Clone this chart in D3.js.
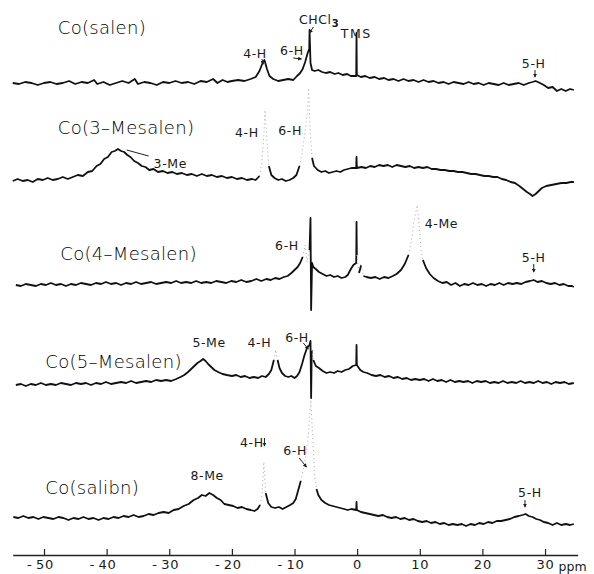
<!DOCTYPE html>
<html>
<head>
<meta charset="utf-8">
<script src="https://cdn.jsdelivr.net/npm/d3@7"></script>
<style>
body { margin: 0; background: #fff; }
</style>
</head>
<body>
<div id="content"></div>
<script>
// Five 1H NMR traces, stacked. Each point: [shift in ppm, intensity above the trace's own baseline].
var compounds = ['Co(salen)', 'Co(3–Mesalen)', 'Co(4–Mesalen)', 'Co(5–Mesalen)', 'Co(salibn)'];
var offsets = [0, -97, -202, -301, -434];
var ticks = [-50, -40, -30, -20, -10, 0, 10, 20, 30];

var salen = [[-55,0],[-54,-1],[-53,1],[-52,0],[-51,-2],[-50,0],[-49,1],[-48,-1],[-47,0],[-46,2],[-45,-1],[-44,1],[-43,0],[-42,3],[-41.5,-1],[-40.5,1],[-39.5,-2],[-38.5,0],[-37.5,2],[-36.5,0],[-35.5,4],[-35,-1],[-34,1],[-33,0],[-32,-2],[-31,1],[-30,0],[-29,2],[-28,0],[-27,1],[-26,-1],[-25,2],[-24,1],[-23,4],[-22.3,0],[-21.5,3],[-20.7,1],[-20,2],[-19,3],[-18,2],[-17,4],[-16.2,6],[-15.6,12],[-15.1,20],[-14.8,23],[-14.4,14],[-14,7],[-13.4,4],[-12.6,2],[-11.8,3],[-11,4],[-10.2,3],[-9.6,7],[-9.1,10],[-8.7,14],[-8.3,21],[-7.9,30],[-7.65,34],[-7.6,53],[-7.45,20],[-7.2,13],[-6.8,12],[-6.2,13],[-5.6,11],[-5,10],[-4.3,11],[-3.6,9],[-3,10],[-2.3,8],[-1.6,9],[-1,7],[-0.15,7],[-0.1,50],[-0.05,8],[0.6,6],[1.3,7],[2,5],[2.8,6],[3.5,4],[4.3,5],[5,3],[5.8,4],[6.6,2],[7.4,4],[8.2,2],[9,3],[9.8,1],[10.6,3],[11.4,1],[12.2,2],[13,0],[13.8,1],[14.6,-1],[15.4,1],[16.2,0],[17,-1],[17.8,1],[18.6,-1],[19.4,0],[20.2,-2],[21,0],[21.8,-1],[22.6,-2],[23.4,0],[24.2,-2],[25,-1],[25.8,0],[26.6,-2],[27.4,0],[28,1],[28.5,2],[29.2,0],[29.8,-2],[30.5,-5],[31.2,-4],[31.9,-8],[32.6,-6],[33.3,-8],[34,-6],[34.6,-7]];

var mesalen3 = [[-55,-1],[-54.2,1],[-53.4,-1],[-52.6,0],[-51.8,-2],[-51,1],[-50.2,0],[-49.4,2],[-48.6,0],[-47.8,1],[-47,3],[-46.2,1],[-45.4,3],[-44.6,5],[-43.8,4],[-43,8],[-42.3,9],[-41.6,14],[-41,16],[-40.4,21],[-39.8,23],[-39.2,28],[-38.7,29],[-38.2,31],[-37.7,29],[-37.2,28],[-36.7,25],[-36.2,23],[-35.6,19],[-35,17],[-34.4,14],[-33.8,13],[-33.2,10],[-32.5,11],[-31.8,8],[-31,9],[-30.3,7],[-29.5,8],[-28.8,6],[-28,7],[-27.2,5],[-26.4,6],[-25.6,4],[-24.8,6],[-24,4],[-23.2,5],[-22.4,3],[-21.6,4],[-20.8,2],[-20,3],[-19.2,1],[-18.4,2],[-17.6,0],[-16.8,1],[-16.2,0],[-15.6,4],[-15.2,18],[-14.9,45],[-14.7,70],[-14.4,38],[-14.1,14],[-13.7,5],[-13.2,2],[-12.6,0],[-12,1],[-11.4,-1],[-10.8,0],[-10.2,2],[-9.7,5],[-9.2,14],[-8.8,26],[-8.4,45],[-8.0,65],[-7.75,92],[-7.5,48],[-7.2,22],[-6.9,14],[-6.3,10],[-5.7,8],[-5.1,9],[-4.5,7],[-3.9,8],[-3.3,9],[-2.7,8],[-2.1,10],[-1.5,11],[-0.9,12],[-0.15,12],[-0.1,23],[-0.05,12],[0.7,13],[1.4,12],[2.1,14],[2.8,13],[3.5,15],[4.2,14],[4.9,15],[5.6,13],[6.3,15],[7,14],[7.7,13],[8.4,14],[9.1,12],[9.8,13],[10.5,12],[11.2,13],[11.9,11],[12.6,11],[13.3,10],[14,10],[14.7,9],[15.4,9],[16.1,8],[16.8,8],[17.5,7],[18.2,6],[18.9,6],[19.6,5],[20.3,4],[21,4],[21.7,3],[22.4,3],[23.1,1],[23.8,0],[24.5,-2],[25.2,-3],[25.9,-6],[26.5,-9],[27.1,-12],[27.6,-14],[28,-16],[28.5,-14],[29,-11],[29.5,-8],[30.2,-6],[31,-5],[31.8,-4],[32.6,-3],[33.4,-3],[34.1,-2],[34.6,-2]];

var mesalen4 = [[-54.5,0],[-53.7,-1],[-52.9,1],[-52.1,0],[-51.3,-1],[-50.5,1],[-49.7,0],[-48.9,2],[-48.1,0],[-47.3,1],[-46.5,-1],[-45.7,1],[-44.9,0],[-44.1,2],[-43.3,1],[-42.5,0],[-41.7,2],[-40.9,1],[-40.1,3],[-39.3,1],[-38.5,2],[-37.7,0],[-36.9,2],[-36.1,1],[-35.3,3],[-34.5,1],[-33.7,2],[-32.9,3],[-32.1,1],[-31.3,2],[-30.5,3],[-29.7,2],[-28.9,4],[-28.1,2],[-27.3,3],[-26.5,2],[-25.7,4],[-24.9,2],[-24.1,3],[-23.3,2],[-22.5,4],[-21.7,3],[-20.9,2],[-20.1,4],[-19.3,3],[-18.5,5],[-17.7,3],[-16.9,4],[-16.1,6],[-15.3,4],[-14.5,6],[-13.8,5],[-13.1,7],[-12.4,6],[-11.7,8],[-11.1,9],[-10.5,12],[-10,15],[-9.5,18],[-9.1,22],[-8.7,28],[-8.3,40],[-8.0,23],[-7.6,35],[-7.45,67],[-7.35,-25],[-7.2,22],[-7.0,18],[-6.6,16],[-6.1,13],[-5.5,11],[-4.9,9],[-4.3,10],[-3.7,8],[-3.1,9],[-2.5,7],[-1.9,8],[-1.5,10],[-1.0,16],[-0.6,20],[-0.15,22],[-0.1,63],[-0.05,30],[0.3,12],[0.65,20],[1.0,9],[1.5,8],[2.2,7],[2.9,8],[3.6,6],[4.3,8],[5,7],[5.7,9],[6.3,11],[7,15],[7.6,21],[8.2,30],[8.7,45],[9.1,65],[9.6,80],[9.9,60],[10.2,35],[10.5,25],[11,17],[11.6,11],[12.2,7],[12.9,4],[13.6,2],[14.3,3],[15,0],[15.7,2],[16.4,-1],[17.1,1],[17.8,0],[18.5,2],[19.2,0],[19.9,1],[20.6,-1],[21.3,1],[22,0],[22.7,2],[23.4,0],[24.1,2],[24.8,1],[25.5,2],[26.2,1],[26.9,3],[27.6,4],[28.2,5],[28.8,3],[29.5,4],[30.2,2],[30.9,1],[31.6,2],[32.3,0],[33,1],[33.7,-1],[34.3,-1],[34.6,-2]];

var mesalen5 = [[-54.5,-1],[-53.7,0],[-52.9,-2],[-52.1,0],[-51.3,-1],[-50.5,1],[-49.7,-1],[-48.9,0],[-48.1,-1],[-47.3,1],[-46.5,0],[-45.7,-1],[-44.9,1],[-44.1,0],[-43.3,1],[-42.5,-1],[-41.7,1],[-40.9,0],[-40.1,2],[-39.3,0],[-38.5,1],[-37.7,2],[-36.9,1],[-36.1,3],[-35.3,1],[-34.5,2],[-33.7,3],[-32.9,2],[-32.1,4],[-31.3,3],[-30.5,4],[-29.7,3],[-28.9,5],[-28.2,7],[-27.6,9],[-27,12],[-26.5,15],[-26,18],[-25.5,21],[-25,23],[-24.6,25],[-24.2,23],[-23.8,20],[-23.3,17],[-22.8,14],[-22.2,12],[-21.5,10],[-20.8,9],[-20,8],[-19.3,9],[-18.6,7],[-17.9,8],[-17.2,6],[-16.5,7],[-15.8,6],[-15.2,8],[-14.6,7],[-14.1,10],[-13.7,14],[-13.3,24],[-13.0,34],[-12.7,24],[-12.4,16],[-12,11],[-11.5,8],[-11,7],[-10.5,8],[-10,6],[-9.6,8],[-9.2,12],[-8.8,20],[-8.4,29],[-8.0,36],[-7.6,39],[-7.45,43],[-7.35,-14],[-7.25,34],[-7.0,24],[-6.6,18],[-6.1,16],[-5.5,13],[-4.9,11],[-4.3,12],[-3.7,11],[-3.1,13],[-2.5,12],[-1.9,14],[-1.3,15],[-0.7,18],[-0.15,19],[-0.1,39],[-0.05,19],[0.5,14],[1,12],[1.6,11],[2.3,9],[3,8],[3.7,9],[4.4,7],[5.1,8],[5.8,6],[6.5,7],[7.2,5],[7.9,6],[8.6,4],[9.3,5],[10,4],[10.7,5],[11.4,3],[12.1,5],[12.8,3],[13.5,4],[14.2,2],[14.9,4],[15.6,2],[16.3,3],[17,2],[17.7,3],[18.4,1],[19.1,3],[19.8,2],[20.5,3],[21.2,1],[21.9,2],[22.6,1],[23.3,3],[24,1],[24.7,2],[25.4,1],[26.1,3],[26.8,1],[27.5,2],[28.2,1],[28.9,3],[29.6,1],[30.3,2],[31,0],[31.7,2],[32.4,1],[33.1,2],[33.8,0],[34.6,1]];

var salibn = [[-54.9,0],[-54.1,-1],[-53.3,1],[-52.5,-1],[-51.7,0],[-50.9,-2],[-50.1,0],[-49.3,-1],[-48.5,-2],[-47.7,0],[-46.9,-1],[-46.1,-3],[-45.3,-1],[-44.5,-2],[-43.7,0],[-42.9,-2],[-42.1,-1],[-41.3,-3],[-40.5,-1],[-39.7,-2],[-38.9,0],[-38.1,-1],[-37.3,1],[-36.5,0],[-35.7,2],[-34.9,0],[-34.1,1],[-33.3,3],[-32.5,2],[-31.7,4],[-30.9,5],[-30.1,4],[-29.3,7],[-28.5,8],[-27.7,11],[-26.9,13],[-26.1,17],[-25.4,19],[-24.8,22],[-24.2,21],[-23.6,24],[-23,22],[-22.4,19],[-21.8,17],[-21.2,13],[-20.5,12],[-19.8,11],[-19.1,9],[-18.4,10],[-17.7,8],[-17,7],[-16.4,6],[-15.9,8],[-15.5,12],[-15.2,22],[-14.9,55],[-14.6,24],[-14.2,14],[-13.7,10],[-13.1,9],[-12.5,10],[-11.9,8],[-11.3,10],[-10.7,12],[-10.2,14],[-9.8,18],[-9.4,27],[-9.0,36],[-8.6,47],[-8.2,60],[-7.8,82],[-7.4,117],[-7.05,75],[-6.8,42],[-6.5,28],[-6.2,22],[-5.7,17],[-5.1,14],[-4.5,12],[-3.9,11],[-3.3,10],[-2.7,9],[-2.1,8],[-1.5,7],[-0.9,8],[-0.15,7],[-0.1,15],[-0.05,7],[0.6,5],[1.3,4],[2,3],[2.7,2],[3.4,1],[4.1,2],[4.8,0],[5.5,-1],[6.2,0],[6.9,-2],[7.6,-1],[8.3,-3],[9,-2],[9.7,-4],[10.4,-5],[11.1,-4],[11.8,-6],[12.5,-5],[13.2,-7],[13.9,-6],[14.6,-8],[15.3,-7],[16,-8],[16.7,-7],[17.4,-9],[18.1,-7],[18.8,-8],[19.5,-6],[20.2,-7],[20.9,-5],[21.6,-6],[22.3,-4],[23,-4],[23.7,-3],[24.4,-2],[25.1,0],[25.8,1],[26.4,2],[26.9,3],[27.4,1],[28,0],[28.6,-2],[29.2,-3],[29.8,-5],[30.5,-6],[31.2,-8],[31.9,-6],[32.6,-8],[33.3,-7],[34,-8],[34.6,-7]];

var spectra = [salen, mesalen3, mesalen4, mesalen5, salibn];

// annotations: [trace, ppm, height, text]
var nameAt = [[-47.8, 49], [-47.8, 46], [-47.4, 25], [-49.8, 16], [-49.8, 23]];
var peakLabels = [
    [0, -18.2, 25, '4-H'], [0, -12.3, 28, '6-H'], [0, -9.3, 59, 'CHCl'], [0, -2.6, 45, 'TMS'], [0, 26.3, 15, '5-H'],
    [1, -32.5, 12, '3-Me'], [1, -19.5, 43, '4-H'], [1, -12.6, 45, '6-H'],
    [2, -13.1, 35, '6-H'], [2, 10.8, 57, '4-Me'], [2, 26.3, 23, '5-H'],
    [3, -26.3, 37, '5-Me'], [3, -17.5, 37, '4-H'], [3, -11.5, 42, '6-H'],
    [4, -26.6, 37, '8-Me'], [4, -18.7, 70, '4-H'], [4, -11.8, 62, '6-H'], [4, 25.7, 20, '5-H']
];
// [trace, ppm1, h1, ppm2, h2, head]
var pointers = [
    [0, -15.2, 24, -15.0, 19, true], [0, -10.2, 25, -8.9, 24, true], [0, -7.0, 56, -7.6, 50, true], [0, 28.4, 13, 28.4, 6, true],
    [1, -36.8, 30, -33.3, 24, false],
    [2, 28.2, 21, 28.2, 13, true],
    [3, -8.6, 41, -7.8, 35, true],
    [4, -14.8, 79, -14.8, 71, true], [4, -9.25, 59, -8.1, 50, true], [4, 26.8, 17, 26.8, 10, true]
];

var width = 594, height = 574;
var svg = d3.select('#content').append('svg')
    .attr('width', width)
    .attr('height', height);

var x = d3.scaleLinear().domain([-55, 35.2]).range([12.7, 577.6]);
var y = d3.scaleLinear().domain([0, 100]).range([83, -17]);

svg.append('defs').append('marker')
    .attr('id', 'head')
    .attr('viewBox', '0 0 6 6')
    .attr('refX', 5).attr('refY', 3)
    .attr('markerWidth', 4).attr('markerHeight', 4)
    .attr('orient', 'auto')
    .append('path').attr('d', 'M0,0L6,3L0,6Z').attr('fill', '#222');

var line = d3.line().curve(d3.curveLinear);

// Fast pen strokes (steep flanks) came out faint in the original, so draw them dotted.
spectra.forEach(function(data, k) {
    var pts = data.map(function(d) { return [x(d[0]), y(d[1] + offsets[k])]; });
    var runs = [], cur = null;
    for (var i = 1; i < pts.length; i++) {
        var dx = Math.abs(pts[i][0] - pts[i - 1][0]);
        var dy = Math.abs(pts[i][1] - pts[i - 1][1]);
        var faint = dx > 1.2 && dy > 8 && dy > 4 * dx;
        if (!cur || cur.faint !== faint) {
            cur = {faint: faint, pts: [pts[i - 1]]};
            runs.push(cur);
        }
        cur.pts.push(pts[i]);
    }
    svg.append('g').selectAll('path')
        .data(runs)
        .enter().append('path')
        .attr('d', function(r) { return line(r.pts); })
        .attr('fill', 'none')
        .attr('stroke', function(r) { return r.faint ? '#aaa' : '#111'; })
        .attr('stroke-width', function(r) { return r.faint ? 1 : 1.8; })
        .attr('stroke-dasharray', function(r) { return r.faint ? '1,3' : null; })
        .attr('stroke-linejoin', 'round');
});

// compound names
svg.append('g').selectAll('text')
    .data(compounds)
    .enter().append('text')
    .attr('x', function(d, i) { return x(nameAt[i][0]); })
    .attr('y', function(d, i) { return y(nameAt[i][1] + offsets[i]); })
    .attr('font-family', 'DejaVu Sans')
    .attr('font-weight', 200)
    .attr('font-size', 18)
    .attr('letter-spacing', 0.3)
    .attr('fill', '#000')
    .text(function(d) { return d; });

// peak labels
var pl = svg.append('g').selectAll('text')
    .data(peakLabels)
    .enter().append('text')
    .attr('x', function(d) { return x(d[1]); })
    .attr('y', function(d) { return y(d[2] + offsets[d[0]]); })
    .attr('font-family', 'DejaVu Sans')
    .attr('font-size', 12.5)
    .attr('letter-spacing', function(d) { return d[3] === 'TMS' ? 1.5 : 0.6; })
    .attr('fill', '#1a1a1a')
    .text(function(d) { return d[3]; });

pl.filter(function(d) { return d[3] === 'CHCl'; })
    .append('tspan')
    .attr('dy', 3)
    .attr('font-size', 10)
    .attr('font-weight', 'bold')
    .text('3');

svg.append('g').selectAll('line')
    .data(pointers)
    .enter().append('line')
    .attr('x1', function(d) { return x(d[1]); })
    .attr('y1', function(d) { return y(d[2] + offsets[d[0]]); })
    .attr('x2', function(d) { return x(d[3]); })
    .attr('y2', function(d) { return y(d[4] + offsets[d[0]]); })
    .attr('stroke', '#222')
    .attr('stroke-width', 1)
    .attr('marker-end', function(d) { return d[5] ? 'url(#head)' : null; });

// ppm axis, ticks pointing up
var axis = d3.axisBottom(x)
    .tickValues(ticks)
    .tickSize(-6)
    .tickSizeOuter(0)
    .tickPadding(5)
    .tickFormat(function(d) { return d < 0 ? '-\u2009' + (-d) : d; });

var gx = svg.append('g')
    .attr('transform', 'translate(0,555)')
    .call(axis);

gx.select('.domain').attr('stroke', '#222').attr('stroke-width', 1.4);
gx.selectAll('.tick line').attr('stroke', '#222').attr('stroke-width', 1.2);
gx.selectAll('.tick text')
    .attr('font-family', 'DejaVu Sans')
    .attr('font-size', 13)
    .attr('letter-spacing', 0.8)
    .attr('fill', '#1a1a1a')
    .attr('dx', function(d) { return d < 0 ? -4 : 0; });

svg.append('text')
    .attr('x', x(35.2) - 19)
    .attr('y', 571)
    .attr('font-family', 'DejaVu Sans')
    .attr('font-size', 12.5)
    .attr('fill', '#1a1a1a')
    .text('ppm');
</script>
</body>
</html>
